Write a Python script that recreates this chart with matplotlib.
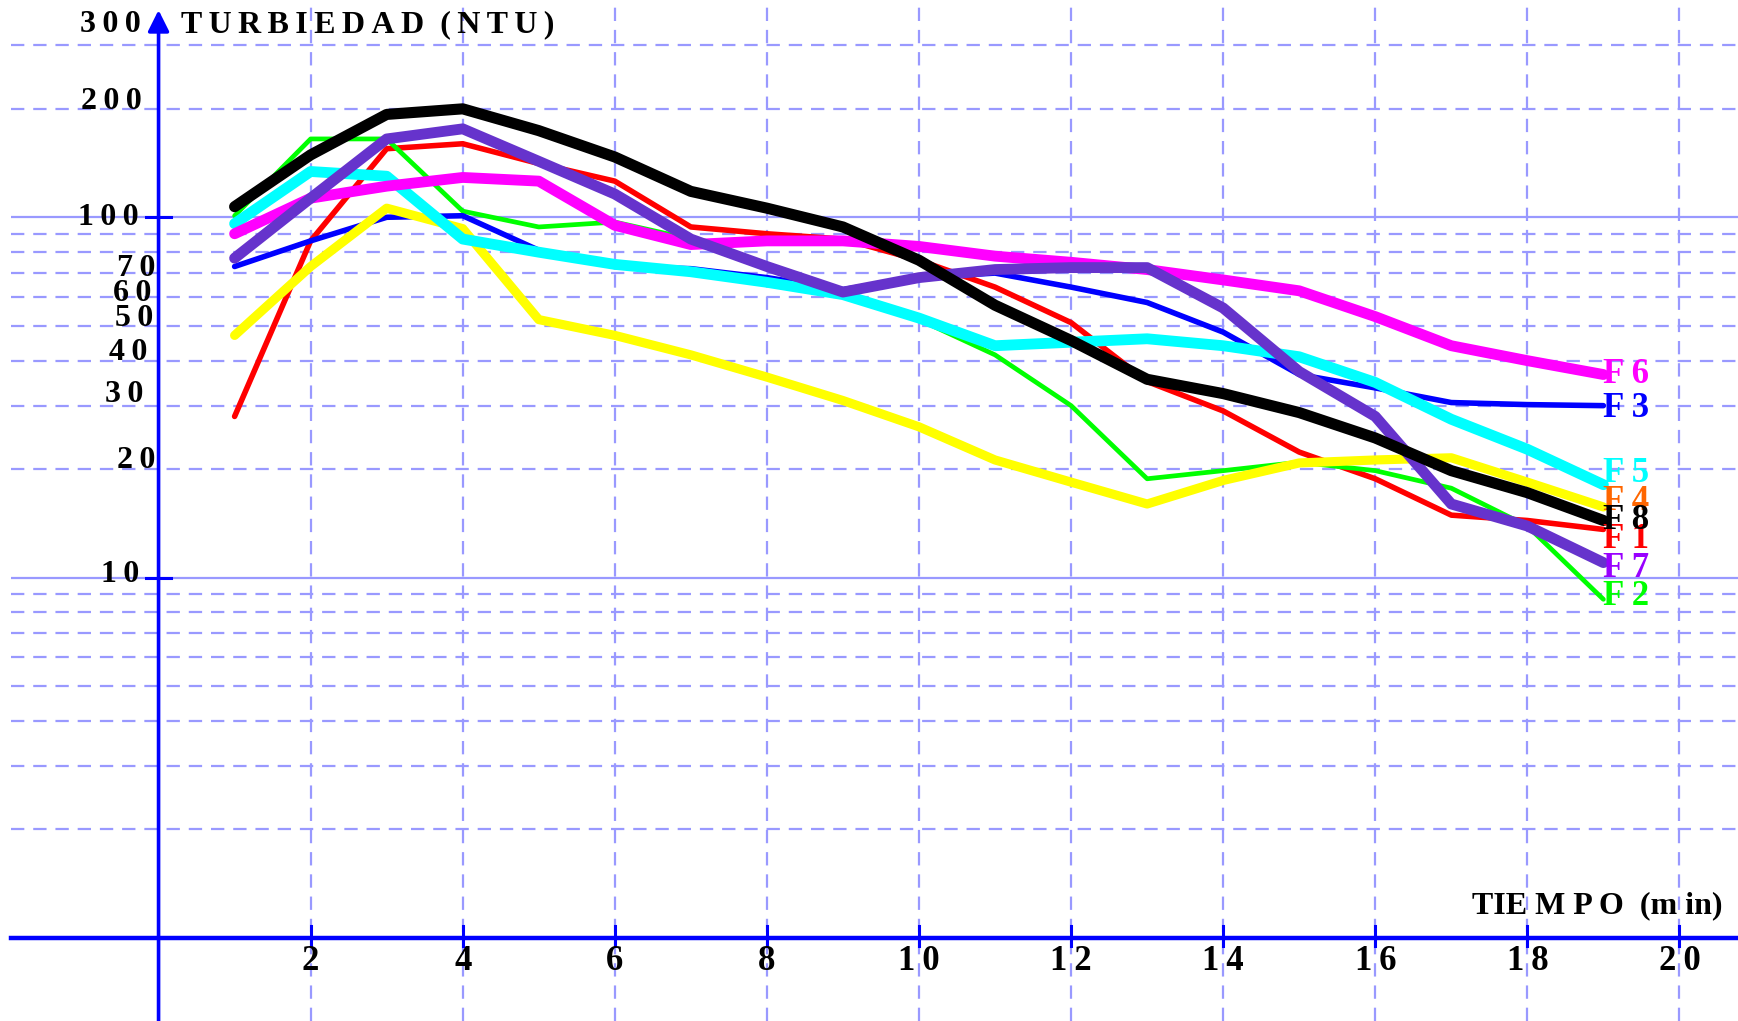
import numpy as np
import matplotlib.pyplot as plt

# tiempo de muestreo (min) y turbiedad (NTU) por filtro
minutos = list(range(1, 20))

f1 = [28, 86, 155, 160, 141, 126, 94, 90, 87, 76, 64, 51, 35, 29, 22.3, 18.8, 14.9, 14.4, 13.6]
f2 = [101, 165, 165, 104, 94, 97, 87, 73, 62, 52, 41.5, 30, 18.8, 19.8, 20.9, 19.8, 17.7, 13.9, 8.7]
f3 = [73, 86, 100, 101, 81, 73, 72, 68, 63, 68, 70, 64, 58, 48, 36.6, 33.6, 30.6, 30.2, 30]
f4 = [47, 73, 106, 93, 52, 47, 41.5, 36, 31, 26.2, 21.2, 18.4, 16, 18.6, 20.8, 21.2, 21.5, 18.4, 15.7]
f5 = [96, 134, 130, 87, 80, 74, 70.6, 66, 61, 52.5, 44, 45, 46, 44, 41, 34.8, 27.5, 22.7, 18.1]
f6 = [90, 113, 122, 129, 126, 95, 84, 86, 86, 83, 78, 75, 71.6, 67, 62.5, 53, 44, 40, 36.6]
f7 = [77, 113, 165, 176, 143, 116, 87, 73, 62, 68, 71.6, 72.5, 72.5, 56, 37.3, 28, 16, 13.9, 11]
f8 = [107, 149, 193, 200, 174, 147, 118, 106, 94, 76, 57, 45.5, 35.5, 32.4, 28.7, 24.4, 19.8, 17.2, 14.4]

series = [f1, f2, f3, f4, f5, f6, f7, f8]
nombres = ["F 1", "F 2", "F 3", "F 4", "F 5", "F 6", "F 7", "F 8"]
colores = ["#ff0000", "#00ff00", "#0000ff", "#ffff00", "#00ffff", "#ff00ff", "#6633cc", "#000000"]
colores_txt = ["#ff0000", "#00ff00", "#0000ff", "#ff6600", "#00ffff", "#ff00ff", "#9900ff", "#000000"]
grosor = [4.0, 3.4, 4.0, 6.6, 7.8, 7.8, 7.8, 8.0]
# desplazamiento vertical (pt) de cada etiqueta respecto al final de su curva
desp_etiqueta = [-7, 2, -2, 4, 8, 0, -4, 0]
orden = [1, 0, 2, 3, 6, 4, 5, 7]

xticks = list(range(2, 21, 2))
yticks = [10, 20, 30, 40, 50, 60, 70, 100, 200, 300]
# posicion de cada rotulo del eje y: borde derecho (x) y subida (pt)
ytick_x = [-0.26, -0.04, -0.2, -0.15, -0.07, -0.09, -0.04, -0.26, -0.22, -0.23]
ytick_dy = [2, 6, 8, 6, 5, 3, 3, 0, 5, 15]

grid_discontinua = [2, 3, 4, 5, 6, 7, 8, 9, 20, 30, 40, 50, 60, 70, 80, 90, 200, 300]
grid_continua = [10, 100]

AZUL = "#0000ff"
GRID = "#9999ff"
TS = "\u2009"


def espaciar(s):
    return TS.join(s)


plt.rcParams["font.family"] = ["Liberation Serif", "DejaVu Serif"]
plt.rcParams["font.weight"] = "bold"

fig = plt.figure(figsize=(17.38, 10.21), dpi=100)
ax = fig.add_axes([0, 0, 1, 1])
ax.set_yscale("log")
x0, x1 = -2.085, 20.77
y0, y1 = 0.5875, 401
ax.set_xlim(x0, x1)
ax.set_ylim(y0, y1)
ax.axis("off")

# rejilla
ax.hlines(grid_discontinua, -1.94, x1, colors=GRID, lw=1.6, linestyles=(0, (6, 4)), zorder=1)
ax.hlines(grid_continua, -1.94, x1, colors=GRID, lw=1.6, zorder=1)
ax.vlines(xticks, y0, y1, colors=GRID, lw=1.6, linestyles=(0, (6, 4)), zorder=1)

# ejes
ax.plot([-1.94, x1], [1, 1], color=AZUL, lw=3.2, zorder=3)
ax.annotate("", xy=(0, 376), xytext=(0, y0),
            arrowprops=dict(arrowstyle="-|>", color=AZUL, lw=2.6, mutation_scale=32,
                            shrinkA=0, shrinkB=0), zorder=3)
for xt in xticks:
    ax.plot([xt, xt], [0.95, 1.075], color=AZUL, lw=2.2, zorder=3)
for yt in grid_continua:
    ax.plot([-0.17, 0.17], [yt, yt], color=AZUL, lw=2.2, zorder=3)

# rotulos
fs = 25
for xt in xticks:
    ax.annotate(espaciar(str(xt)), (xt, 1), xytext=(0, -17), textcoords="offset points",
                ha="center", va="center", fontsize=fs, fontweight="bold")
for yt, xr, dy in zip(yticks, ytick_x, ytick_dy):
    ax.annotate(espaciar(str(yt)), (xr, yt), xytext=(0, dy), textcoords="offset points",
                ha="right", va="center", fontsize=23, fontweight="bold")

ax.annotate(espaciar("TURBIEDAD") + "  " + espaciar("(NTU)"), (0.3, 300), xytext=(0, 15),
            textcoords="offset points", ha="left", va="center", fontsize=23, fontweight="bold")
ax.annotate("TIE M P O  (m in)", (17.27, 1), xytext=(0, 23), textcoords="offset points",
            ha="left", va="center", fontsize=23, fontweight="bold")

# curvas
for i in orden:
    ax.plot(minutos, series[i], color=colores[i], lw=grosor[i],
            solid_capstyle="round", solid_joinstyle="round", zorder=4 + i * 0.1)

for i in range(len(series)):
    ax.annotate(nombres[i], (minutos[-1], series[i][-1]), xytext=(0, desp_etiqueta[i]),
                textcoords="offset points", ha="left", va="center",
                fontsize=fs, fontweight="bold", color=colores_txt[i], zorder=6)

fig.savefig("out.png", dpi=100)
